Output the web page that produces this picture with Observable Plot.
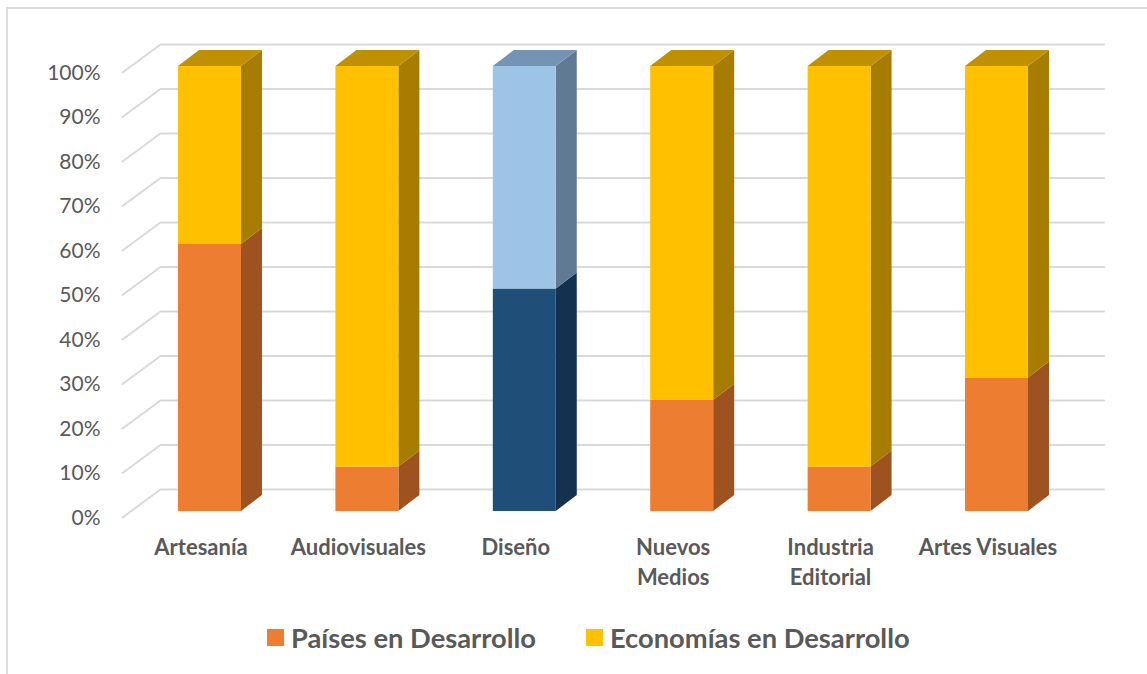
<!DOCTYPE html>
<html><head><meta charset="utf-8">
<script src="https://cdn.jsdelivr.net/npm/d3@7"></script>
<script src="https://cdn.jsdelivr.net/npm/@observablehq/plot@0.6"></script>
<style>
html,body{margin:0;padding:0;background:#fff;overflow:hidden}
#wrap{position:relative;width:1147px;height:674px;overflow:hidden}
#frame{position:absolute;left:6px;top:7px;width:1200px;height:700px;border:2px solid #dcdcdc;box-sizing:border-box}
#chart{position:absolute;left:0;top:0}
#legend{position:absolute;left:267px;top:618px;height:38px;display:flex;align-items:center;font:700 27.3px Lato,sans-serif;color:#595959;white-space:nowrap}
#legend span.s{display:inline-block;width:17px;height:17px;margin-right:7px}
#legend span.t{margin-right:50px}
</style></head><body>
<div id="wrap"><div id="frame"></div><div id="chart"></div>
<div id="legend"></div></div>
<script>
const categories = ["Artesanía","Audiovisuales","Diseño","Nuevos\nMedios","Industria\nEditorial","Artes Visuales"];
const paises =    [60,10,50,25,10,30];
const economias = [40,90,50,75,90,70];
const yTicks = [0,10,20,30,40,50,60,70,80,90,100];
const legendLabels = ["Países en Desarrollo","Economías en Desarrollo"];
const legendColors = ["#ED7D31","#FFC000"];
const lowerFront = ["#ED7D31","#ED7D31","#1F4E79","#ED7D31","#ED7D31","#ED7D31"];
const lowerSide  = ["#9E521F","#9E521F","#14324F","#9E521F","#9E521F","#9E521F"];
const upperFront = ["#FFC000","#FFC000","#9DC3E6","#FFC000","#FFC000","#FFC000"];
const upperSide  = ["#A67D00","#A67D00","#617A94","#A67D00","#A67D00","#A67D00"];
const upperTop   = ["#BF9000","#BF9000","#7594B3","#BF9000","#BF9000","#BF9000"];

// Oblique projection, in scale units
const halfBar = 0.2, depthX = 0.1334, depthY = 3.6;
const wallLeftFront = -0.556, wallLeftBack = -0.3145, wallRight = 5.68;
const floorFront = -1.35, floorBack = 4.94;

const fronts = [], sides = [], tops = [];
categories.forEach((c,i)=>{
  const a = paises[i], b = a + economias[i];
  const xl = i-halfBar, xr = i+halfBar;
  fronts.push({x1:xl,x2:xr,y1:0,y2:a,fill:lowerFront[i]});
  fronts.push({x1:xl,x2:xr,y1:a,y2:b,fill:upperFront[i]});
  [[0,a,lowerSide[i],"l"],[a,b,upperSide[i],"u"]].forEach(([v0,v1,fill,k])=>{
    for (const t of [0,1]) sides.push({id:i+k,x:xr+depthX*t,y1:v0+depthY*t,y2:v1+depthY*t,fill});
  });
  for (const t of [0,1]) tops.push({id:i,y:b+depthY*t,x1:xl+depthX*t,x2:xr+depthX*t,fill:upperTop[i]});
});
const grid = yTicks.flatMap(v=>[
  {v,x:wallLeftFront,y:v+floorFront},
  {v,x:wallLeftBack,y:v+floorBack},
  {v,x:wallRight,y:v+floorBack}
]);

const plot = Plot.plot({
  width:1147, height:610, marginLeft:100, marginTop:0, marginBottom:0, marginRight:0,
  style:{background:"transparent",overflow:"visible"},
  x:{type:"linear",domain:[0,5],range:[209.5,996.5],axis:null},
  y:{type:"linear",domain:[0,100],range:[511,66],axis:null},
  marks:[
    Plot.line(grid,{x:"x",y:"y",z:"v",stroke:"#d9d9d9",strokeWidth:2}),
    Plot.areaY(sides,{x:"x",y1:"y1",y2:"y2",z:"id",fill:d=>d.fill}),
    Plot.areaX(tops,{y:"y",x1:"x1",x2:"x2",z:"id",fill:d=>d.fill}),
    Plot.rect(fronts,{x1:"x1",x2:"x2",y1:"y1",y2:"y2",fill:d=>d.fill}),
    Plot.axisY({anchor:"left",ticks:yTicks,tickFormat:d=>d+"%",tickSize:0,tickPadding:0,dy:6.5,label:null,
      fontSize:21,fontFamily:"Lato, sans-serif",fontVariant:"normal",color:"#595959",fill:"#595959"}),
    Plot.axisX({anchor:"bottom",ticks:d3.range(categories.length),tickFormat:i=>categories[i],tickSize:0,tickPadding:0,label:null,
      lineAnchor:"top",dx:-9,dy:-77,fontSize:22,fontWeight:700,fontFamily:"Lato, sans-serif",lineHeight:1.36,fill:"#595959"})
  ]
});
document.getElementById("chart").append(plot);
const lg = document.getElementById("legend");
legendLabels.forEach((t,i)=>{
  const s=document.createElement("span");s.className="s";s.style.background=legendColors[i];
  const l=document.createElement("span");l.className="t";l.textContent=t;
  lg.append(s,l);
});
</script></body></html>
